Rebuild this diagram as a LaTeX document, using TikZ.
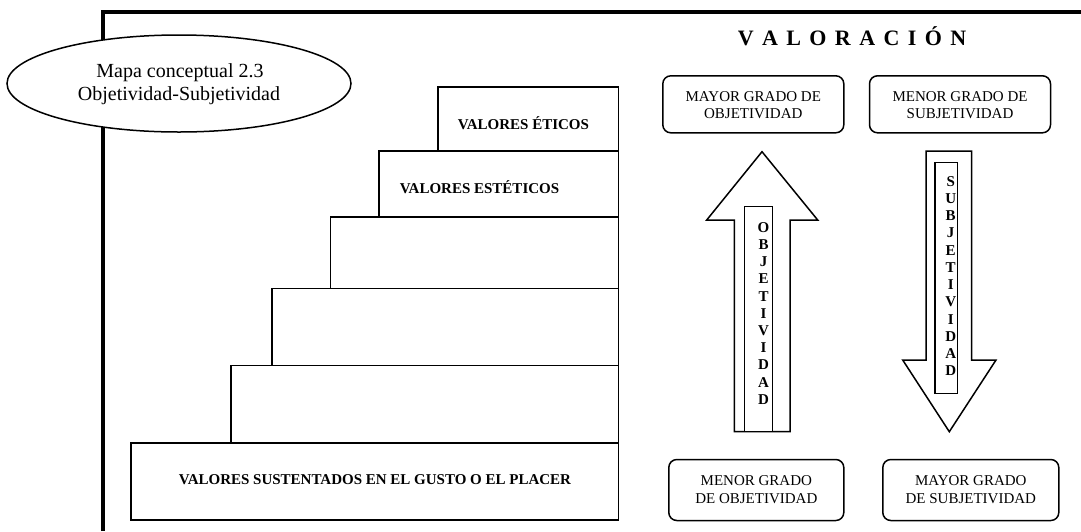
\documentclass[tikz,border=0pt]{standalone}
\usepackage{fontspec}
\setmainfont{Liberation Serif}
\newcommand{\spacedword}[2]{\def\lsgap{#1}\spacedwordloop#2\relax}
\def\spacedwordloop#1#2\relax{#1\ifx\relax#2\relax\else\hspace{\lsgap}\spacedwordloop#2\relax\fi}
\begin{document}
\begin{tikzpicture}[x=1pt,y=-1pt,
  frameline/.style={line width=3.4pt},
  stepbox/.style={draw, line width=1.6pt},
  steptext/.style={font=\fontsize{15}{17}\selectfont\bfseries, anchor=base, inner sep=0pt},
  gradebox/.style={draw, rounded corners=8pt, line width=1.5pt, fill=white, inner sep=0pt},
  gradetext/.style={font=\fontsize{15}{17}\selectfont, anchor=base, inner sep=0pt},
  bigarrow/.style={draw, line width=1.5pt, fill=white, line join=miter},
  letterbar/.style={draw, line width=1.5pt, fill=white},
  letter/.style={font=\fontsize{15}{17}\selectfont\bfseries, anchor=base, inner sep=0pt},
  titletext/.style={font=\fontsize{20}{22}\selectfont, anchor=base, inner sep=0pt},
  headtext/.style={font=\fontsize{22}{24}\selectfont\bfseries, anchor=base, inner sep=0pt}]
\useasboundingbox (0,0) rectangle (1081,531);
\fill[white] (0,0) rectangle (1081,531);

% outer frame (only the top and left edges are inside the page)
\coordinate (fbl) at (103,531);
\coordinate (ftl) at (103,12);
\coordinate (ftr) at (1081,12);
\draw[frameline] (fbl) -- (ftl) -- (ftr);

% title ellipse
\path[draw, line width=1.5pt, fill=white] (179,83.5) ellipse [x radius=172, y radius=48.5];
\node[titletext] (title1) at (180,77.7) {Mapa conceptual 2.3};
\node[titletext] (title2) at (179,100) {Objetividad-Subjetividad};

% staircase of values
\path[stepbox] (438,87)    rectangle (618.5,150.7);
\path[stepbox] (379,150.7) rectangle (618.5,216.7);
\path[stepbox] (330.6,216.7) rectangle (618.5,288.3);
\path[stepbox] (272,288.3) rectangle (618.5,365.3);
\path[stepbox] (230.7,365.3) rectangle (618.5,443);
\path[stepbox] (131,443)   rectangle (618.5,520);
\node[steptext] (eticos) at (523.5,129.3) {VALORES ÉTICOS};
\node[steptext] (esteticos) at (479.5,193.3) {VALORES ESTÉTICOS};
\node[steptext] (gusto) at (375,484) {VALORES SUSTENTADOS EN EL GUSTO O EL PLACER};

% heading
\node[headtext] (valoracion) at (852,45) {\spacedword{8.4pt}{VALORACIÓN}};

% grade boxes
\node[gradebox, minimum width=181pt, minimum height=57pt] (mayorobj) at (753.3,104.3) {};
\node[gradetext] (mayorobj1) at (753.3,101.5) {MAYOR GRADO DE};
\node[gradetext] (mayorobj2) at (753.3,118.5) {OBJETIVIDAD};
\node[gradebox, minimum width=181pt, minimum height=57pt] (menorsub) at (960,104.3) {};
\node[gradetext] (menorsub1) at (960,101.5) {MENOR GRADO DE};
\node[gradetext] (menorsub2) at (960,118.5) {SUBJETIVIDAD};
\node[gradebox, minimum width=175pt, minimum height=61pt] (menorobj) at (756.3,490) {};
\node[gradetext] (menorobj1) at (756.3,485) {MENOR GRADO};
\node[gradetext] (menorobj2) at (756.3,503.3) {DE OBJETIVIDAD};
\node[gradebox, minimum width=176pt, minimum height=61pt] (mayorsub) at (970.8,490) {};
\node[gradetext] (mayorsub1) at (970.8,485) {MAYOR GRADO};
\node[gradetext] (mayorsub2) at (970.8,503.3) {DE SUBJETIVIDAD};

% upward arrow: objectivity
\path[bigarrow] (734.3,431.7) -- (734.3,220) -- (706.7,220) -- (762,151.7)
  -- (817.7,220) -- (790,220) -- (790,431.7) -- cycle;
\path[letterbar] (744.3,206.7) rectangle (772.7,431.7);
\foreach \l [count=\i] in {O,B,J,E,T,I,V,I,D,A,D}
  \node[letter] (obj\i) at (763.5,{232.3+17.2*(\i-1)}) {\l};

% downward arrow: subjectivity
\path[bigarrow] (926,151) -- (971.7,151) -- (971.7,360) -- (996,360)
  -- (949.3,431.7) -- (902.7,360) -- (926,360) -- cycle;
\path[letterbar] (935,162.7) rectangle (957.7,393.3);
\foreach \l [count=\i] in {S,U,B,J,E,T,I,V,I,D,A,D}
  \node[letter] (sub\i) at (950.7,{186+17.25*(\i-1)}) {\l};
\end{tikzpicture}
\end{document}
